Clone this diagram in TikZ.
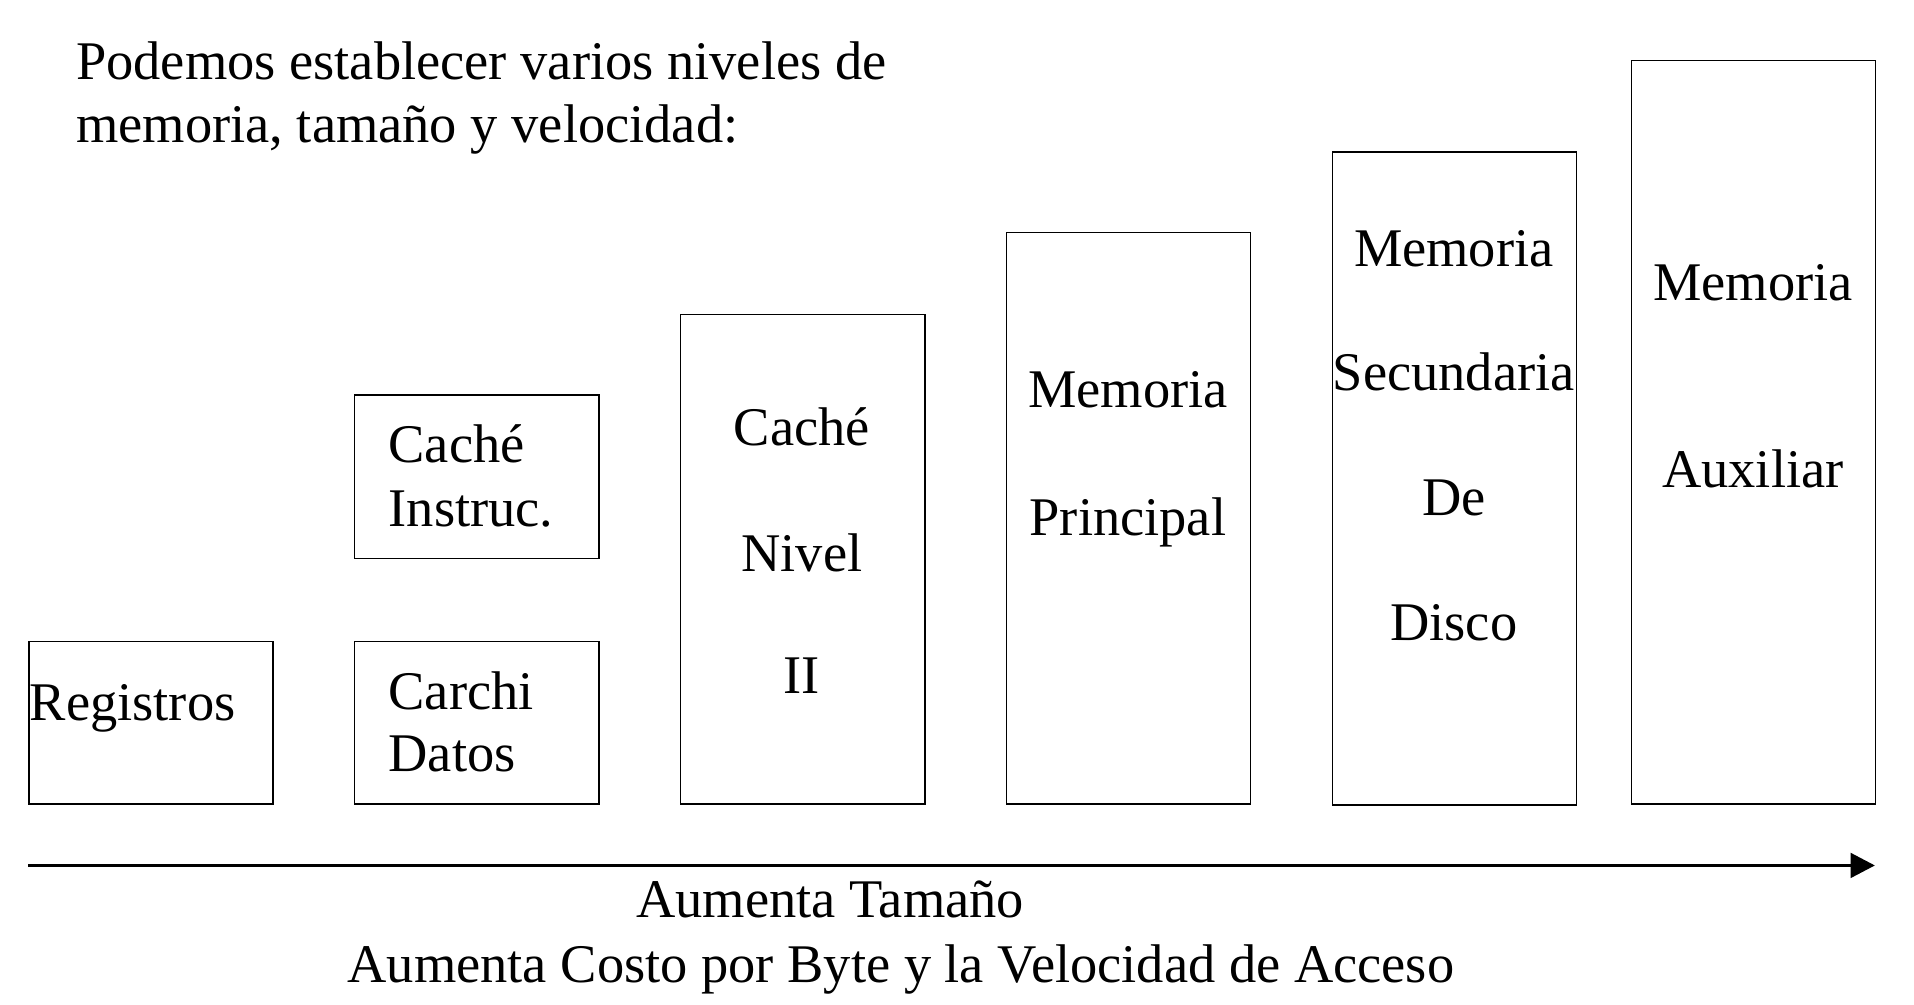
\documentclass[tikz,border=0pt]{standalone}
\usepackage{fontspec}
\setmainfont{Liberation Serif}
\usetikzlibrary{arrows.meta}
\begin{document}
\begin{tikzpicture}[x=0.5pt,y=-0.5pt,
  box/.style={draw, line width=0.6pt, anchor=north west, inner sep=0pt, minimum width=100pt},
  txt/.style={anchor=base, inner sep=0pt, font=\fontsize{22.3}{26}\selectfont},
  txtw/.style={txt, anchor=base west}]
\useasboundingbox (0,0) rectangle (1568,823);
% header
\node[txtw] (h1) at (62,65) {Podemos establecer varios niveles de};
\node[txtw] (h2) at (62,117) {memoria, tamaño y velocidad:};
% boxes
\node[box, minimum height=66.5pt] (reg) at (23,525) {};
\node[box, minimum height=67pt] (ci) at (290,323) {};
\node[box, minimum height=66.5pt] (cd) at (290,525) {};
\node[box, minimum height=200.5pt] (c2) at (557,257) {};
\node[box, minimum height=234pt] (mp) at (824,190) {};
\node[box, minimum height=267.5pt] (ms) at (1091,124) {};
\node[box, minimum height=304.5pt] (ma) at (1336,49) {};
% box texts
\node[txtw] (treg) at (24,590) {Registros};
\node[txtw] (tci1) at (318,379) {Caché};
\node[txtw] (tci2) at (318,431) {Instruc.};
\node[txtw] (tcd1) at (318,581) {Carchi};
\node[txtw] (tcd2) at (318,632) {Datos};
\node[txt] (tc21) at (657,365) {Caché};
\node[txt] (tc22) at (657,468) {Nivel};
\node[txt] (tc23) at (657,568) {II};
\node[txt] (tmp1) at (924,334) {Memoria};
\node[txt] (tmp2) at (924,439) {Principal};
\node[txt] (tms1) at (1191,218) {Memoria};
\node[txt] (tms2) at (1191,320) {Secundaria};
\node[txt] (tms3) at (1191,422) {De};
\node[txt] (tms4) at (1191,525) {Disco};
\node[txt] (tma1) at (1436,246) {Memoria};
\node[txt] (tma2) at (1436,399) {Auxiliar};
% arrow
\coordinate (as) at (23,709);
\coordinate (ae) at (1536,709);
\draw[line width=1.6pt, -{Triangle[length=10pt,width=10pt]}] (as) -- (ae);
% bottom labels
\node[txt] (b1) at (680,752) {Aumenta Tamaño};
\node[txt] (b2) at (738,805) {Aumenta Costo por Byte y la Velocidad de Acceso};
\end{tikzpicture}
\end{document}
